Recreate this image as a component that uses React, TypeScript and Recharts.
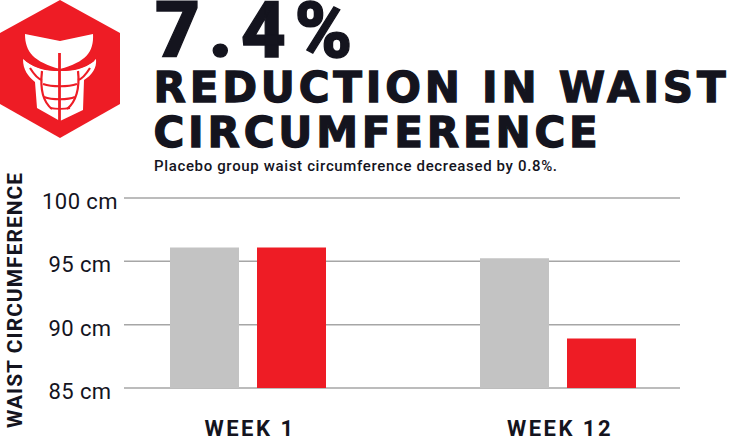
import { BarChart, Bar, XAxis, YAxis, CartesianGrid } from "recharts";

const weeks = ["WEEK 1", "WEEK 12"];
const placebo = [96.1, 95.25];
const treated = [96.1, 88.9];
const yTicks = [85, 90, 95, 100];

const data = weeks.map((week, i) => ({ week, placebo: placebo[i], treated: treated[i] }));

const RED = "#ee1c25";
const GREY = "#c3c3c3";
const INK = "#14141e";
const FONT = "Roboto, sans-serif";
const HEAVY = "'DejaVu Sans', sans-serif";

function Headline({ x, y, size, spacing, font, weight, stroke, children }: any) {
  return (
    <div
      style={{
        position: "absolute",
        left: x,
        top: y,
        fontFamily: font,
        fontSize: size,
        fontWeight: weight,
        letterSpacing: spacing,
        lineHeight: 0.72,
        color: INK,
        whiteSpace: "nowrap",
        WebkitTextStroke: `${stroke}px ${INK}`,
      }}
    >
      {children}
    </div>
  );
}

function Badge() {
  return (
    <svg width={122} height={140} style={{ position: "absolute", left: 0, top: 0 }}>
      <polygon points="60,0 120,33 120,104 60,138 0,104 0,33" fill={RED} />
      <path
        d="M23,59 C32,67 45,71 60,71 C75,71 88,67 96,59 C97,68 92,75 84,80 L83,110 L60,121 L37,108 L35,82 C28,76 23,70 23,59 Z"
        fill="#fff"
      />
      <path d="M25,34 L60,41 L93,34 C94,52 86,62 60,69 C34,62 25,52 25,34 Z" fill="#fff" />
      <g fill="none" stroke={RED} strokeWidth={2.2}>
        <path d="M59.5,53 V122" strokeWidth={2.8} />
        <path d="M26,60 C36,68 46,70 60,70 C74,70 84,68 94,60" />
        <path d="M30,68 C35,76 38,79 42,80 M90,68 C85,76 82,79 78,80" />
        <path d="M42,71 C40,88 43,102 52,109 M78,71 C80,88 76,102 67,109" />
        <path d="M43,84 C52,87 68,87 77,84 M44,97 C52,100 68,100 75,97 M50,108 C55,109 65,109 70,108" />
      </g>
    </svg>
  );
}

function YTick({ y, payload }: any) {
  return (
    <text
      x={80}
      y={y + 11}
      textAnchor="middle"
      fill={INK}
      fontFamily={FONT}
      fontSize={22}
      letterSpacing={0.4}
    >
      {`${payload.value} cm`}
    </text>
  );
}

export default function App() {
  return (
    <div style={{ position: "absolute", left: 0, top: 0, width: 729, height: 445, background: "#fff", overflow: "hidden" }}>
      <Badge />
      <Headline x={155} y={3} size={78} spacing={8.5} font={FONT} weight={900} stroke={1.3}>7.4%</Headline>
      <Headline x={153.5} y={72.5} size={42} spacing={3.8} font={HEAVY} weight={700} stroke={1.3}>REDUCTION IN WAIST</Headline>
      <Headline x={153.5} y={117.5} size={42} spacing={3.8} font={HEAVY} weight={700} stroke={1.3}>CIRCUMFERENCE</Headline>
      <div
        style={{
          position: "absolute",
          left: 154,
          top: 159,
          fontFamily: FONT,
          fontSize: 15,
          fontWeight: 500,
          letterSpacing: 0.65,
          lineHeight: 1,
          color: INK,
          whiteSpace: "nowrap",
        }}
      >
        Placebo group waist circumference decreased by 0.8%.
      </div>
      <div style={{ position: "absolute", left: 0, top: 0 }}>
        <BarChart
          width={729}
          height={445}
          data={data}
          margin={{ top: 198, right: 49, bottom: 27, left: 0 }}
          barSize={69}
          barGap={18}
        >
          <CartesianGrid vertical={false} stroke="#a6a6a6" strokeWidth={1.5} />
          <XAxis
            dataKey="week"
            axisLine={false}
            tickLine={false}
            padding={{ left: -31, right: -33 }}
            tickMargin={26}
            tick={{ fill: INK, fontFamily: FONT, fontSize: 22, fontWeight: 700, letterSpacing: 2.5, dx: 2 }}
          />
          <YAxis
            width={124}
            domain={[85, 100]}
            ticks={yTicks}
            interval={0}
            axisLine={false}
            tickLine={false}
            tick={<YTick />}
            label={{
              value: "WAIST CIRCUMFERENCE",
              angle: -90,
              position: "insideLeft",
              dx: 10,
              dy: 135,
              style: { fill: INK, fontFamily: FONT, fontSize: 21, fontWeight: 700, letterSpacing: 1 },
            }}
          />
          <Bar dataKey="placebo" fill={GREY} isAnimationActive={false} />
          <Bar dataKey="treated" fill={RED} isAnimationActive={false} />
        </BarChart>
      </div>
    </div>
  );
}
